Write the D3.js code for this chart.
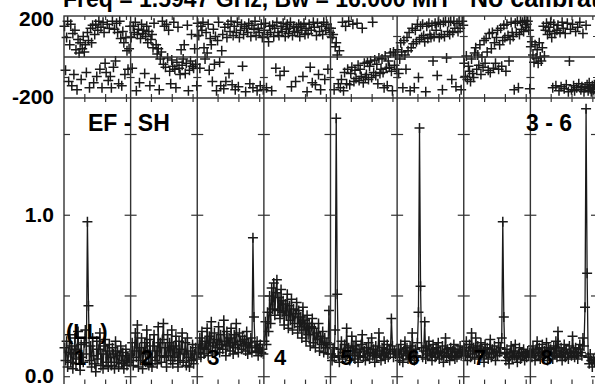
<!DOCTYPE html>
<html>
<head>
<meta charset="utf-8">
<script src="https://cdn.jsdelivr.net/npm/d3@7"></script>
<style>
  body { margin: 0; background: #fff; }
  text { font-family: "Liberation Sans", Arial, sans-serif; font-weight: bold; fill: #000; }
</style>
</head>
<body>
<svg id="chart" width="595" height="384"></svg>
<script>
// IF panel labels
var ifLabels = ["1", "2", "3", "4", "5", "6", "7", "8"]

// phase per channel (degrees), one array per IF
var phase1 = [150,-65,95,175,-120,60,160,-140, 115,-85,130,35,-160,85,20,70, -110,40,100,25,60,-75,120,80, -150,140,70,155,-125,110,160,-95,
              130,175,-60,145,-150,170,120,-30, -75,160,-115,140,-95,-150,175,-50, 135,-20,165,120,-130,175,90,-140, 125,70,-85,95,30,-60,40,150]
var phase2 = [95,-55,150,120,170,-165,110,135, -125,90,160,115,130,-80,100,150, 70,125,-140,85,110,45,165,-105, 60,15,40,-160,-10,25,175,-35,
              150,-50,160,-5,130,-70,-130,-15, -45,170,-60,-150,-25,145,-55,-85, 35,-40,-10,60,-80,-30,155,-165, -65,-20,110,-45,-55,40,-35,-140]
var phase3 = [165,105,-55,150,130,170,45,-10, 120,20,160,-65,90,60,-120,135, -35,100,-165,80,170,-25,-140,30, 110,-155,145,-120,95,160,-80,125,
              175,-135,105,150,-160,120,170,-145, 95,130,160,-45,110,150,-170,140, 120,165,-130,100,155,-150,135,175, 105,-165,140,120,-140,160,95,-160]
var phase4 = [130,165,-150,110,75,150,120,-165, 155,100,140,-55,170,120,105,-90, 150,125,165,-70,100,135,160,115, 140,170,-145,105,150,125,-120,145,
              120,160,100,150,130,-95,165,110, 140,-170,115,160,-50,130,-125,170, 145,-135,105,165,-85,125,-160,150, 110,170,-110,130,160,-60,140,120]
var phase5 = [140,95,110,-160,50,70,10,-130, 30,-150,-110,170,-165,-75,150,-130, -60,175,-135,-80,-50,160,-120,-65, -105,165,-40,-115,-60,-95,140,-125,
              -30,-100,-85,-25,-110,-45,-20,-100, 170,-75,-15,-90,-35,-130,-5,-80, -60,-10,-75,-150,5,-55,-140,-20, -50,20,-70,-165,25,-40,10,-60]
var phase6 = [35,-80,-10,70,25,-150,80,10, -60,95,30,120,-165,45,140,65, -150,130,75,160,-100,85,150,95, 160,105,75,-170,150,90,165,110,
              95,155,-20,100,165,130,-90,170, 95,160,110,-160,170,100,175,-5, 125,170,110,175,-110,120,175,140, -145,165,125,175,140,-160,175,155]
var phase7 = [-30,-95,5,-110,-45,-70,-120,-10, -80,-100,20,45,-60,10,-40,60, -85,0,-50,80,-30,90,25,-65, 115,-75,40,120,-55,70,-30,95,
              130,-60,60,140,-45,80,155,95, -70,160,105,-20,85,170,120,100, -160,165,120,175,-150,110,175,135, 170,125,178,145,160,175,130,-155]
var phase8 = [50,75,10,-25,60,-5,35,-30, 70,0,-20,45,150,5,130,165, 110,145,125,170,95,-150,160,115, -140,130,155,-165,120,-145,170,140,
              -155,115,-135,165,-170,-20,135,-160, 160,-140,-165,125,-150,145,-130,170, -160,-145,115,-170,-150,155,-135,-165, -125,-155,-170,-140,-160,-135,-175,-150]

// amplitude per channel (x 0.01), one array per IF
var amp1 = [18,10,22,6,15,26,9,19, 5,14,24,8,17,28,11,4, 20,12,9,21,29,14,96,44, 10,19,6,24,13,8,3,22,
            11,17,27,7,14,5,19,23, 9,16,6,20,12,7,18,14, 5,22,9,16,6,13,19,8, 15,5,10,17,7,13,9,14]
var amp2 = [10,21,7,16,27,12,32,6, 18,10,24,5,15,21,9,29, 14,7,23,12,6,19,26,10, 16,8,31,13,21,9,23,33,
            12,18,6,26,13,21,10,29, 8,19,12,25,15,6,22,10, 17,27,9,14,21,7,24,12, 6,16,10,20,8,14,18,11]
var amp3 = [20,15,24,12,28,18,14,22, 17,30,13,25,19,34,16,21, 27,14,23,18,31,15,26,20, 17,35,22,13,28,19,24,16,
            30,21,14,26,18,33,20,15, 27,22,17,25,19,23,16,28, 14,21,18,24,15,86,37,19, 16,22,13,18,20,15,17,14]
var amp4 = [22,34,20,40,28,50,33,55, 42,58,38,52,60,41,49,36, 54,40,47,32,45,38,51,30, 44,35,48,29,42,33,39,46,
            27,41,31,37,24,43,29,35, 22,38,26,33,19,31,36,21, 30,18,27,23,33,16,25,20, 28,15,24,18,21,14,41,20]
var amp5 = [14,10,18,12,29,160,51,13, 9,17,22,11,15,20,12,30, 14,18,10,16,25,13,19,11, 22,15,9,17,13,20,26,12,
            16,10,18,14,21,11,15,24, 13,17,9,19,12,16,27,14, 10,18,13,22,11,15,20,12, 17,14,36,19,12,16,14,15]
var amp6 = [12,17,10,20,14,9,16,22, 13,18,11,15,19,12,27,14, 10,17,13,21,40,154,56,18, 12,16,34,11,19,14,22,13,
            17,10,20,15,12,18,14,21, 11,16,13,19,9,15,24,12, 17,14,10,18,13,16,20,11, 15,12,17,14,19,13,16,14]
var amp7 = [18,13,22,10,16,20,12,27, 14,18,11,24,15,19,12,17, 21,13,16,9,20,14,18,11, 15,23,12,17,14,19,10,16,
            13,21,15,18,24,96,37,14, 10,17,12,8,15,19,11,16, 13,20,12,9,14,18,11,15, 13,17,10,14,12,16,13,15]
var amp8 = [16,12,19,14,10,17,22,13, 18,11,15,20,12,16,14,21, 10,18,13,17,15,11,19,14, 22,12,28,16,13,18,10,15,
            20,12,17,14,11,19,15,13, 25,16,12,18,14,11,17,20, 15,13,24,19,43,166,64,12, 8,14,10,6,11,9,12,10]

var phaseTickLabels = [-200, 200]
var ampTickLabels = [0.0, 1.0]
var ampTickMarks = [0.5, 1.0, 1.5]
var phaseTickMarks = [-100, 100]
var chanTicks = [20, 40, 60]

var phases = [phase1, phase2, phase3, phase4, phase5, phase6, phase7, phase8]
var amps = [amp1, amp2, amp3, amp4, amp5, amp6, amp7, amp8]

var svg = d3.select("#chart")

var left = 64, right = 597
var phTop = 16, phBot = 98, ampBot = 385.6
var nChan = 64, nIF = 8

var panelX = d3.scaleLinear().domain([0, nIF]).range([left, right])
var yPh = d3.scaleLinear().domain([-200, 200]).range([phBot, phTop])
var yAmp = d3.scaleLinear().domain([-0.055, 1.726]).range([ampBot, phBot])

var frameColor = "#333"
var markColor = "#1a1a1a"
var arm = 5

function crossPath(x, y) {
    return "M" + (x - arm) + "," + y + "H" + (x + arm) + "M" + x + "," + (y - arm) + "V" + (y + arm)
}

// data
phases.forEach(function(ph, k) {
    var xs = d3.scaleLinear().domain([0, nChan]).range([panelX(k), panelX(k + 1)])
    var g = svg.append("g").attr("class", "if-" + (k + 1))

    g.append("path")
        .attr("d", ph.map(function(v, i) { return crossPath(xs(i + 0.5), yPh(v)) }).join(""))
        .attr("fill", "none")
        .attr("stroke", markColor)
        .attr("stroke-width", 1.5)

    var amp = amps[k]
    var line = d3.line()
        .x(function(d, i) { return xs(i + 0.5) })
        .y(function(d) { return yAmp(d / 100) })
    g.append("path")
        .datum(amp)
        .attr("d", line)
        .attr("fill", "none")
        .attr("stroke", markColor)
        .attr("stroke-width", 1.3)
    g.append("path")
        .attr("d", amp.map(function(v, i) { return crossPath(xs(i + 0.5), yAmp(v / 100)) }).join(""))
        .attr("fill", "none")
        .attr("stroke", markColor)
        .attr("stroke-width", 1.5)
})

// frame
var frame = svg.append("g").attr("stroke", frameColor).attr("stroke-width", 1.4).attr("fill", "none")
frame.append("rect").attr("x", left).attr("y", phTop).attr("width", right - left).attr("height", ampBot - phTop)
frame.append("line").attr("x1", left).attr("x2", right).attr("y1", phBot).attr("y2", phBot)
frame.append("line").attr("x1", left).attr("x2", right).attr("y1", yPh(0)).attr("y2", yPh(0))
d3.range(1, nIF).forEach(function(k) {
    frame.append("line").attr("x1", panelX(k)).attr("x2", panelX(k)).attr("y1", phTop).attr("y2", ampBot)
})

// ticks
var ticks = svg.append("g").attr("stroke", frameColor).attr("stroke-width", 1.2)
d3.range(0, nIF + 1).forEach(function(k) {
    var x = panelX(k)
    ampTickMarks.concat([0]).forEach(function(v) {
        var y = yAmp(v)
        ticks.append("line").attr("x1", x - (k == 0 ? 0 : 6)).attr("x2", x + 6).attr("y1", y).attr("y2", y)
    })
    phaseTickMarks.forEach(function(v) {
        var y = yPh(v)
        ticks.append("line").attr("x1", x - (k == 0 ? 0 : 4)).attr("x2", x + 4).attr("y1", y).attr("y2", y)
    })
    if (k == nIF) return
    var xs = d3.scaleLinear().domain([0, nChan]).range([panelX(k), panelX(k + 1)])
    chanTicks.forEach(function(c) {
        var xc = xs(c)
        ticks.append("line").attr("x1", xc).attr("x2", xc).attr("y1", phTop).attr("y2", phTop + 4)
        ticks.append("line").attr("x1", xc).attr("x2", xc).attr("y1", phBot - 4).attr("y2", phBot + 4)
        ticks.append("line").attr("x1", xc).attr("x2", xc).attr("y1", ampBot - 6).attr("y2", ampBot)
    })
})

// axis labels
svg.selectAll(".ph-label").data(phaseTickLabels).enter().append("text")
    .attr("class", "ph-label")
    .attr("x", 54)
    .attr("y", function(d) { return d > 0 ? yPh(d) + 10 : yPh(d) + 6 })
    .attr("text-anchor", "end")
    .attr("font-size", "21px")
    .text(function(d) { return d })

svg.selectAll(".amp-label").data(ampTickLabels).enter().append("text")
    .attr("class", "amp-label")
    .attr("x", 54)
    .attr("y", function(d) { return yAmp(d) + (d == 0 ? 6 : 7) })
    .attr("text-anchor", "end")
    .attr("font-size", "21px")
    .text(function(d) { return d3.format(".1f")(d) })

// title and annotations
svg.append("text").attr("x", 63).attr("y", 7).attr("font-size", "23px")
    .text("Freq = 1.5947 GHz, Bw = 16.000 MH")
svg.append("text").attr("x", 470).attr("y", 7).attr("font-size", "25px")
    .text("No calibration")
svg.append("text").attr("x", 88).attr("y", 131).attr("font-size", "23px").text("EF - SH")
svg.append("text").attr("x", 526).attr("y", 131).attr("font-size", "23px").text("3 - 6")
svg.append("text").attr("x", 66).attr("y", 339).attr("font-size", "22px").text("(LL)")

svg.selectAll(".if-label").data(ifLabels).enter().append("text")
    .attr("class", "if-label")
    .attr("x", function(d, i) { return panelX(i) + 10 })
    .attr("y", 365)
    .attr("font-size", "22px")
    .text(function(d) { return d })
</script>
</body>
</html>
